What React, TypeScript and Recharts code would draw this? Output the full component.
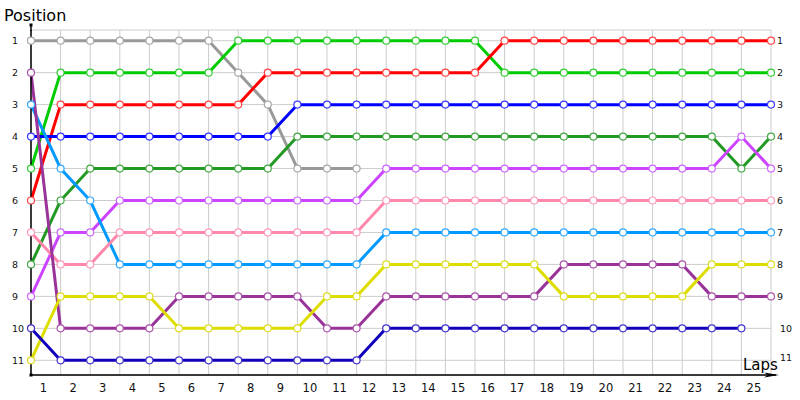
import React from 'react';
import { LineChart, Line, XAxis, YAxis, CartesianGrid } from 'recharts';

// lap index 0..25, one position per lap (null = driver out)
const laps = Array.from({ length: 26 }, (_, i) => i);
const lapLabels = ['1', '2', '3', '4', '5', '6', '7', '8', '9', '10', '11', '12', '13', '14', '15', '16', '17', '18', '19', '20', '21', '22', '23', '24', '25'];
const positionTicks = [1, 2, 3, 4, 5, 6, 7, 8, 9, 10, 11];

const gray = [1, 1, 1, 1, 1, 1, 1, 2, 3, 5, 5, 5, null, null, null, null, null, null, null, null, null, null, null, null, null, null];
const green = [5, 2, 2, 2, 2, 2, 2, 1, 1, 1, 1, 1, 1, 1, 1, 1, 2, 2, 2, 2, 2, 2, 2, 2, 2, 2];
const red = [6, 3, 3, 3, 3, 3, 3, 3, 2, 2, 2, 2, 2, 2, 2, 2, 1, 1, 1, 1, 1, 1, 1, 1, 1, 1];
const blue = [4, 4, 4, 4, 4, 4, 4, 4, 4, 3, 3, 3, 3, 3, 3, 3, 3, 3, 3, 3, 3, 3, 3, 3, 3, 3];
const darkGreen = [8, 6, 5, 5, 5, 5, 5, 5, 5, 4, 4, 4, 4, 4, 4, 4, 4, 4, 4, 4, 4, 4, 4, 4, 5, 4];
const violet = [9, 7, 7, 6, 6, 6, 6, 6, 6, 6, 6, 6, 5, 5, 5, 5, 5, 5, 5, 5, 5, 5, 5, 5, 4, 5];
const skyBlue = [3, 5, 6, 8, 8, 8, 8, 8, 8, 8, 8, 8, 7, 7, 7, 7, 7, 7, 7, 7, 7, 7, 7, 7, 7, 7];
const pink = [7, 8, 8, 7, 7, 7, 7, 7, 7, 7, 7, 7, 6, 6, 6, 6, 6, 6, 6, 6, 6, 6, 6, 6, 6, 6];
const purple = [2, 10, 10, 10, 10, 9, 9, 9, 9, 9, 10, 10, 9, 9, 9, 9, 9, 9, 8, 8, 8, 8, 8, 9, 9, 9];
const yellow = [11, 9, 9, 9, 9, 10, 10, 10, 10, 10, 9, 9, 8, 8, 8, 8, 8, 8, 9, 9, 9, 9, 9, 8, 8, 8];
const navy = [10, 11, 11, 11, 11, 11, 11, 11, 11, 11, 11, 11, 10, 10, 10, 10, 10, 10, 10, 10, 10, 10, 10, 10, 10, null];

const series = [
  { key: 'gray', values: gray, color: '#999999', dot: '#a8a8a8' },
  { key: 'green', values: green, color: '#00cc00', dot: '#33cc33' },
  { key: 'red', values: red, color: '#ff0000', dot: '#ff4444' },
  { key: 'blue', values: blue, color: '#0000ff', dot: '#3838ff' },
  { key: 'darkGreen', values: darkGreen, color: '#229922', dot: '#44a844' },
  { key: 'violet', values: violet, color: '#cc44ff', dot: '#cc66ff' },
  { key: 'skyBlue', values: skyBlue, color: '#0099ff', dot: '#33aaff' },
  { key: 'pink', values: pink, color: '#ff88aa', dot: '#ff99bb' },
  { key: 'purple', values: purple, color: '#993399', dot: '#aa55aa' },
  { key: 'yellow', values: yellow, color: '#dddd00', dot: '#dddd22' },
  { key: 'navy', values: navy, color: '#1100bb', dot: '#4433cc' },
];

const data = laps.map((lap) => {
  const row: Record<string, number | null> = { lap };
  series.forEach((s) => {
    row[s.key] = s.values[lap];
  });
  return row;
});

const font = 'Tahoma, "DejaVu Sans", sans-serif';

const LapTick = (props: any) => {
  const { x, y, payload } = props;
  const label = lapLabels[payload.value];
  if (!label) return null;
  return (
    <text x={x + 12.5} y={y + 9} textAnchor='middle' fontSize={11.5} fontFamily={font} fill='#111'>
      {label}
    </text>
  );
};

const LeftTick = (props: any) => {
  const { y, payload } = props;
  return (
    <text x={12} y={y + 3.5} fontSize={9.5} fontFamily={font} fill='#111'>
      {payload.value}
    </text>
  );
};

const RightTick = (props: any) => {
  const { y, payload } = props;
  const shift = payload.value >= 10 ? 3 : 0;
  return (
    <text x={777 + shift} y={y + 3.5 - (payload.value === 11 ? 3 : 0)} fontSize={9.5} fontFamily={font} fill='#111'>
      {payload.value}
    </text>
  );
};

const App: React.FC = () => {
  return (
    <div style={{ position: 'absolute', left: 0, top: 0, width: 800, height: 400, background: '#fff' }}>
      <LineChart width={800} height={400} data={data} margin={{ top: 30, right: 0, bottom: 0, left: 0 }}>
        <CartesianGrid stroke='#cccccc' yAxisId='left' />
        <XAxis
          dataKey='lap'
          type='number'
          domain={[0, 25]}
          ticks={laps}
          tick={<LapTick />}
          tickLine={false}
          axisLine={{ stroke: '#000', strokeWidth: 1.5 }}
          height={25}
          interval={0}
        />
        <YAxis
          yAxisId='left'
          type='number'
          reversed
          domain={[0.665, 11.46]}
          allowDataOverflow
          ticks={positionTicks}
          tick={<LeftTick />}
          tickLine={false}
          axisLine={{ stroke: '#000', strokeWidth: 1.5 }}
          width={31}
          interval={0}
        />
        <YAxis
          yAxisId='right'
          orientation='right'
          type='number'
          reversed
          domain={[0.665, 11.46]}
          allowDataOverflow
          ticks={positionTicks}
          tick={<RightTick />}
          tickLine={false}
          axisLine={false}
          width={29}
          interval={0}
        />
        {series.map((s) => (
          <Line
            key={s.key}
            yAxisId='left'
            type='linear'
            dataKey={s.key}
            stroke={s.color}
            strokeWidth={3}
            dot={{ r: 3.5, stroke: s.dot, strokeWidth: 1.2, fill: '#fff' }}
            activeDot={false}
            isAnimationActive={false}
          />
        ))}
      </LineChart>
      <svg width={800} height={400} style={{ position: 'absolute', left: 0, top: 0, pointerEvents: 'none' }}>
        <line x1={31} y1={24} x2={31} y2={31} stroke='#000' strokeWidth={1.5} />
        <rect x={29.5} y={23.5} width={3} height={3} fill='#000' />
        <rect x={29.5} y={373.5} width={3} height={3} fill='#000' />
        <line x1={770} y1={375} x2={776} y2={375} stroke='#000' strokeWidth={1.5} />
        <polygon points='764,372.5 779,375 764,377.5 768,375' fill='#000' />
        <text x={4} y={21} fontSize={16} fontFamily={font} fill='#000'>
          Position
        </text>
        <text x={743} y={370} fontSize={15} fontFamily={font} fill='#000'>
          Laps
        </text>
      </svg>
    </div>
  );
};

export default App;
